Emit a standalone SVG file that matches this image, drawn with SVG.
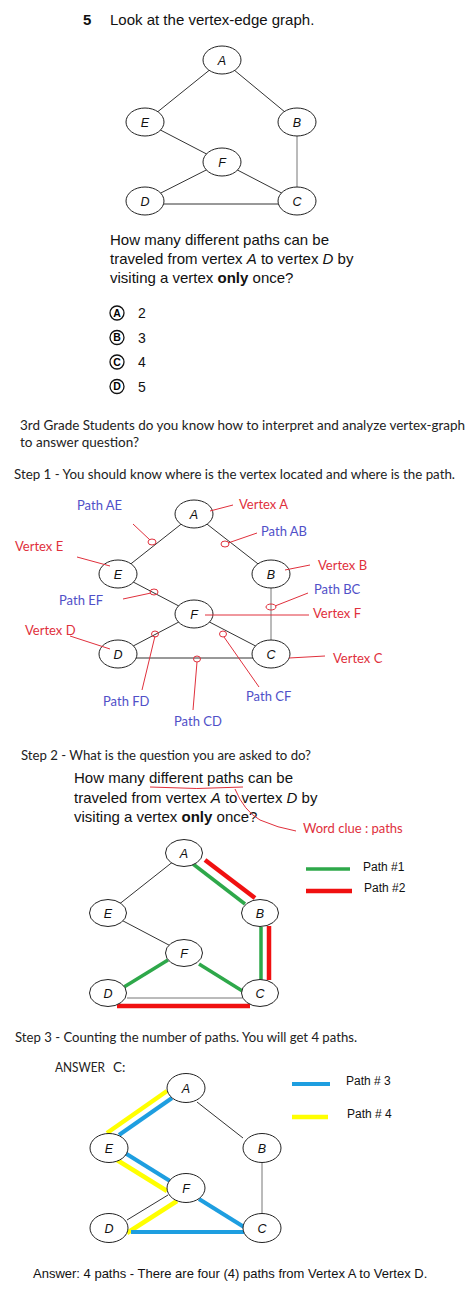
<svg xmlns="http://www.w3.org/2000/svg" width="474" height="1298" viewBox="0 0 474 1298">
<style>
.bg{fill:#fff}
.nd ellipse{fill:#fff;stroke:#222;stroke-width:1}
.nd text{font-family:"Liberation Sans",Arial,sans-serif;font-size:12.5px;font-style:italic;text-anchor:middle;fill:#111}
.e{stroke:#333;stroke-width:1;fill:none}
.eg{stroke:#777;stroke-width:1;fill:none}
.ar{font-family:"Liberation Sans",Arial,sans-serif;fill:#111}
.q{font-size:15px}
.cal{font-family:Lato,"Open Sans",sans-serif;font-size:13.5px;fill:#222}
.lr{font-family:Lato,"Open Sans",sans-serif;font-size:13px;fill:#e0303c}
.lb{font-family:Lato,"Open Sans",sans-serif;font-size:13px;fill:#5050c8}
.ld{stroke:#e0303c;stroke-width:1;fill:none}
.mk{stroke:#e0303c;stroke-width:1;fill:none}
.gr{stroke:#2ea84a;stroke-width:3.5;fill:none}
.rd{stroke:#f01010;stroke-width:4.5;fill:none}
.bl{stroke:#1e9ee0;stroke-width:4;fill:none}
.yl{stroke:#ffff00;stroke-width:4.5;fill:none}
.opt circle{fill:#fff;stroke:#111;stroke-width:1.3}
.opt text.l{font-family:"Liberation Sans",Arial,sans-serif;font-size:10.5px;font-weight:bold;text-anchor:middle}
.leg{font-family:"Liberation Sans",Arial,sans-serif;font-size:12px;fill:#111}
</style>
<rect class="bg" x="0" y="0" width="474" height="1298"/>

<!-- Title -->
<text class="ar q" x="83" y="25" font-weight="bold">5</text>
<text class="ar q" x="110" y="25">Look at the vertex-edge graph.</text>

<!-- Graph 1 connectors -->
<g id="connectors1">
<line class="e" x1="222" y1="60" x2="145" y2="122"/>
<line class="e" x1="222" y1="60" x2="297" y2="122"/>
<line class="e" x1="145" y1="122" x2="222" y2="162"/>
<line class="e" x1="222" y1="162" x2="145" y2="201"/>
<line class="e" x1="222" y1="162" x2="297" y2="201"/>
<line class="eg" x1="297" y1="122" x2="297" y2="201"/>
<line class="e" x1="145" y1="204" x2="297" y2="204"/>
</g>
<g id="g1-A" class="nd"><ellipse cx="222" cy="60" rx="19" ry="14"/><text x="222" y="64.5">A</text></g>
<g id="g1-E" class="nd"><ellipse cx="145" cy="122" rx="19" ry="14"/><text x="145" y="126.5">E</text></g>
<g id="g1-B" class="nd"><ellipse cx="297" cy="122" rx="19" ry="14"/><text x="297" y="126.5">B</text></g>
<g id="g1-F" class="nd"><ellipse cx="222" cy="162" rx="19" ry="14"/><text x="222" y="166.5">F</text></g>
<g id="g1-D" class="nd"><ellipse cx="145" cy="201" rx="19" ry="14"/><text x="145" y="205.5">D</text></g>
<g id="g1-C" class="nd"><ellipse cx="297" cy="201" rx="19" ry="14"/><text x="297" y="205.5">C</text></g>

<!-- Question -->
<text class="ar q" x="110" y="245">How many different paths can be</text>
<text class="ar q" x="110" y="264">traveled from vertex <tspan font-style="italic">A</tspan> to vertex <tspan font-style="italic">D</tspan> by</text>
<text class="ar q" x="110" y="283">visiting a vertex <tspan font-weight="bold">only</tspan> once?</text>

<g id="options" class="opt">
<circle cx="117" cy="313" r="7"/><text class="l" x="117" y="316.8">A</text><text class="ar" x="138" y="318" font-size="14">2</text>
<circle cx="117" cy="337.5" r="7"/><text class="l" x="117" y="341.3">B</text><text class="ar" x="138" y="342.5" font-size="14">3</text>
<circle cx="117" cy="362" r="7"/><text class="l" x="117" y="365.8">C</text><text class="ar" x="138" y="367" font-size="14">4</text>
<circle cx="117" cy="386.5" r="7"/><text class="l" x="117" y="390.3">D</text><text class="ar" x="138" y="391.5" font-size="14">5</text>
</g>

<!-- Intro -->
<text class="cal" x="20" y="430" textLength="445" lengthAdjust="spacingAndGlyphs">3rd Grade Students do you know how to interpret and analyze vertex-graph</text>
<text class="cal" x="20" y="447">to answer question?</text>
<text class="cal" x="14" y="479" textLength="441" lengthAdjust="spacingAndGlyphs">Step 1 - You should know where is the vertex located and where is the path.</text>

<!-- Graph 2 (step 1) -->
<g id="connectors2">
<line class="e" x1="194" y1="514" x2="118" y2="574"/>
<line class="e" x1="194" y1="514" x2="271" y2="574"/>
<line class="e" x1="118" y1="574" x2="194" y2="614"/>
<line class="e" x1="194" y1="614" x2="118" y2="654"/>
<line class="e" x1="194" y1="614" x2="271" y2="654"/>
<line class="eg" x1="271" y1="574" x2="271" y2="654"/>
<line class="e" x1="118" y1="658" x2="271" y2="658"/>
</g>
<g id="g2-A" class="nd"><ellipse cx="194" cy="514" rx="19" ry="14"/><text x="194" y="518.5">A</text></g>
<g id="g2-E" class="nd"><ellipse cx="118" cy="574" rx="19" ry="14"/><text x="118" y="578.5">E</text></g>
<g id="g2-B" class="nd"><ellipse cx="271" cy="574" rx="19" ry="14"/><text x="271" y="578.5">B</text></g>
<g id="g2-F" class="nd"><ellipse cx="194" cy="614" rx="19" ry="14"/><text x="194" y="618.5">F</text></g>
<g id="g2-D" class="nd"><ellipse cx="118" cy="654" rx="19" ry="14"/><text x="118" y="658.5">D</text></g>
<g id="g2-C" class="nd"><ellipse cx="271" cy="654" rx="19" ry="14"/><text x="271" y="658.5">C</text></g>

<g id="annotations1">
<ellipse class="mk" cx="152" cy="542" rx="4" ry="3"/>
<ellipse class="mk" cx="225" cy="544" rx="4" ry="3"/>
<ellipse class="mk" cx="154" cy="592" rx="4" ry="3"/>
<ellipse class="mk" cx="271" cy="607" rx="5" ry="3"/>
<ellipse class="mk" cx="155" cy="634" rx="3.5" ry="3"/>
<ellipse class="mk" cx="223" cy="634" rx="3.5" ry="3"/>
<ellipse class="mk" cx="197" cy="659" rx="3.5" ry="3"/>
<line class="ld" x1="133" y1="524" x2="150" y2="540"/>
<line class="ld" x1="77" y1="557" x2="110" y2="566"/>
<line class="ld" x1="123" y1="599" x2="151" y2="593"/>
<line class="ld" x1="70" y1="636" x2="110" y2="649"/>
<line class="ld" x1="155" y1="636" x2="142" y2="690"/>
<line class="ld" x1="197" y1="662" x2="193" y2="710"/>
<line class="ld" x1="210" y1="511" x2="233" y2="505"/>
<line class="ld" x1="228" y1="543" x2="257" y2="533"/>
<line class="ld" x1="285" y1="570" x2="310" y2="565"/>
<line class="ld" x1="275" y1="606" x2="308" y2="593"/>
<line class="ld" x1="205" y1="615" x2="309" y2="615"/>
<line class="ld" x1="224" y1="637" x2="259" y2="687"/>
<line class="ld" x1="289" y1="658" x2="325" y2="656"/>
<text class="lb" x="77" y="510">Path AE</text>
<text class="lr" x="15" y="551">Vertex E</text>
<text class="lb" x="59" y="605">Path EF</text>
<text class="lr" x="25" y="635">Vertex D</text>
<text class="lb" x="103" y="706">Path FD</text>
<text class="lb" x="174" y="726">Path CD</text>
<text class="lr" x="239" y="509">Vertex A</text>
<text class="lb" x="261" y="536">Path AB</text>
<text class="lr" x="318" y="570">Vertex B</text>
<text class="lb" x="314" y="594">Path BC</text>
<text class="lr" x="313" y="618">Vertex F</text>
<text class="lb" x="246" y="701">Path CF</text>
<text class="lr" x="333" y="663">Vertex C</text>
</g>

<!-- Step 2 -->
<text class="cal" x="21" y="760" textLength="290" lengthAdjust="spacingAndGlyphs">Step 2 - What is the question you are asked to do?</text>
<text class="ar q" x="74" y="783">How many different paths can be</text>
<text class="ar q" x="74" y="803">traveled from vertex <tspan font-style="italic">A</tspan> to vertex <tspan font-style="italic">D</tspan> by</text>
<text class="ar q" x="74" y="822">visiting a vertex <tspan font-weight="bold">only</tspan> once?</text>
<g id="wordclue">
<path class="ld" d="M150,787 Q197,790 243,787"/>
<path class="ld" d="M235,789 Q244,811 260,820 Q278,828 296,831"/>
<text class="lr" x="303" y="833">Word clue : paths</text>
</g>

<g id="connectors3">
<line class="e" x1="184" y1="853" x2="108" y2="913"/>
<line class="e" x1="108" y1="913" x2="184" y2="953"/>
<line class="eg" x1="127" y1="998" x2="242" y2="998"/>
<line class="gr" x1="193" y1="864" x2="245" y2="904"/>
<line class="rd" x1="205" y1="860" x2="255" y2="898"/>
<line class="gr" x1="261" y1="927" x2="261" y2="980"/>
<line class="rd" x1="269" y1="926" x2="269" y2="980"/>
<line class="gr" x1="199" y1="964" x2="244" y2="992"/>
<line class="gr" x1="168" y1="960" x2="124" y2="987"/>
<line class="rd" x1="117" y1="1006" x2="250" y2="1006"/>
</g>
<g id="g3-A" class="nd"><ellipse cx="184" cy="853" rx="18.5" ry="13.5"/><text x="184" y="857.5">A</text></g>
<g id="g3-E" class="nd"><ellipse cx="108" cy="913" rx="18.5" ry="13.5"/><text x="108" y="917.5">E</text></g>
<g id="g3-B" class="nd"><ellipse cx="260" cy="913" rx="18.5" ry="13.5"/><text x="260" y="917.5">B</text></g>
<g id="g3-F" class="nd"><ellipse cx="184" cy="953" rx="18.5" ry="13.5"/><text x="184" y="957.5">F</text></g>
<g id="g3-D" class="nd"><ellipse cx="108" cy="993" rx="18.5" ry="13.5"/><text x="108" y="997.5">D</text></g>
<g id="g3-C" class="nd"><ellipse cx="260" cy="993" rx="18.5" ry="13.5"/><text x="260" y="997.5">C</text></g>
<g id="legend1">
<line class="gr" x1="306" y1="869" x2="350" y2="869"/>
<text class="leg" x="363" y="871">Path #1</text>
<line class="rd" x1="306" y1="891" x2="352" y2="891"/>
<text class="leg" x="364" y="892">Path #2</text>
</g>

<!-- Step 3 -->
<text class="cal" x="15" y="1042" textLength="342" lengthAdjust="spacingAndGlyphs">Step 3 - Counting the number of paths. You will get 4 paths.</text>
<text class="cal" x="55" y="1072" textLength="50" lengthAdjust="spacingAndGlyphs">ANSWER</text>
<text class="cal" x="113" y="1072">C:</text>

<g id="connectors4">
<line class="e" x1="197" y1="1102" x2="243" y2="1138"/>
<line class="eg" x1="262" y1="1148" x2="262" y2="1228"/>
<line class="e" x1="168" y1="1195" x2="127" y2="1220"/>
<line class="yl" x1="167" y1="1091" x2="107" y2="1133"/>
<line class="bl" x1="172" y1="1098" x2="119" y2="1135"/>
<line class="bl" x1="125" y1="1153" x2="170" y2="1181"/>
<line class="yl" x1="117" y1="1160" x2="167" y2="1191"/>
<line class="bl" x1="199" y1="1199" x2="244" y2="1227"/>
<line class="yl" x1="177" y1="1201" x2="127" y2="1233"/>
<line class="bl" x1="131" y1="1232" x2="244" y2="1232"/>
</g>
<g id="g4-A" class="nd"><ellipse cx="186" cy="1088" rx="19" ry="14.5"/><text x="186" y="1092.5">A</text></g>
<g id="g4-E" class="nd"><ellipse cx="109" cy="1148" rx="19" ry="14.5"/><text x="109" y="1152.5">E</text></g>
<g id="g4-B" class="nd"><ellipse cx="262" cy="1148" rx="19" ry="14.5"/><text x="262" y="1152.5">B</text></g>
<g id="g4-F" class="nd"><ellipse cx="186" cy="1188" rx="19" ry="14.5"/><text x="186" y="1192.5">F</text></g>
<g id="g4-D" class="nd"><ellipse cx="109" cy="1228" rx="19" ry="14.5"/><text x="109" y="1232.5">D</text></g>
<g id="g4-C" class="nd"><ellipse cx="262" cy="1228" rx="19" ry="14.5"/><text x="262" y="1232.5">C</text></g>
<g id="legend2">
<line class="bl" x1="292" y1="1084" x2="330" y2="1084" stroke-width="5"/>
<text class="leg" x="346" y="1085">Path # 3</text>
<line class="yl" x1="292" y1="1117" x2="328" y2="1117" stroke-width="5"/>
<text class="leg" x="347" y="1118">Path # 4</text>
</g>

<text class="ar" x="33" y="1278" font-size="13">Answer: 4 paths - There are four (4) paths from Vertex A to Vertex D.</text>
</svg>
